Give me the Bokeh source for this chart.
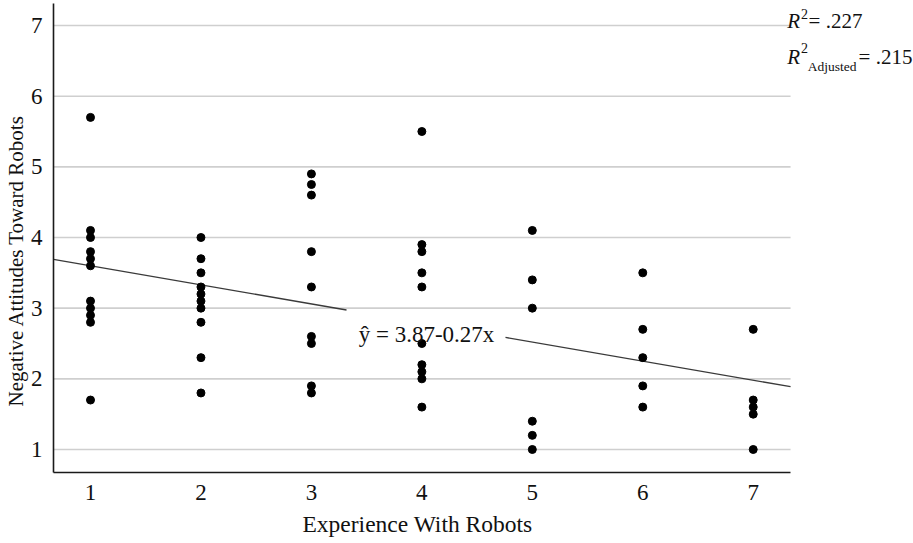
from bokeh.plotting import figure
from bokeh.models import Range1d, Label, FixedTicker, Title
from bokeh.embed import file_html
from bokeh.resources import INLINE

# ---------------- data ----------------
x_ticks = [1, 2, 3, 4, 5, 6, 7]
y_ticks = [1, 2, 3, 4, 5, 6, 7]

level_1 = [5.7, 4.1, 4.0, 3.8, 3.7, 3.6, 3.1, 3.0, 2.9, 2.8, 1.7]
level_2 = [4.0, 3.7, 3.5, 3.3, 3.2, 3.1, 3.0, 2.8, 2.3, 1.8]
level_3 = [4.9, 4.75, 4.6, 3.8, 3.3, 2.6, 2.5, 1.9, 1.8]
level_4 = [5.5, 3.9, 3.8, 3.5, 3.3, 2.5, 2.2, 2.1, 2.0, 1.6]
level_5 = [4.1, 3.4, 3.0, 1.4, 1.2, 1.0]
level_6 = [3.5, 2.7, 2.3, 1.9, 1.6]
level_7 = [2.7, 1.7, 1.6, 1.5, 1.0]
levels = [level_1, level_2, level_3, level_4, level_5, level_6, level_7]

intercept = 3.87
slope = -0.27
r2_value = ".227"
r2_adj_value = ".215"
equation_text = "ŷ = 3.87-0.27x"
x_title = "Experience With Robots"
y_title = "Negative Attitudes Toward Robots"

xs, ys = [], []
for lvl, vals in zip(x_ticks, levels):
    xs += [lvl] * len(vals)
    ys += vals

# ---------------- figure ----------------
X0, X_AXIS_END, X1 = 0.665, 7.338, 8.451
Y0, Y_AXIS_END, Y1 = 0.6745, 7.311, 7.354
FONT = "Liberation Serif"
INK = "#111111"

p = figure(width=913, height=543, output_backend="svg", toolbar_location=None,
           x_range=Range1d(X0, X1), y_range=Range1d(Y0, Y1),
           min_border_left=53, min_border_right=0, min_border_top=0,
           min_border_bottom=71)
p.outline_line_color = None
p.background_fill_color = "white"
p.border_fill_color = "white"

# axes
for ax in (p.xaxis[0], p.yaxis[0]):
    ax.major_tick_line_color = None
    ax.minor_tick_line_color = None
    ax.axis_line_color = "#1a1a1a"
    ax.axis_line_width = 1.6
    ax.major_label_text_font = FONT
    ax.major_label_text_font_size = "23px"
    ax.major_label_text_color = INK

p.xaxis.ticker = FixedTicker(ticks=x_ticks)
p.yaxis.ticker = FixedTicker(ticks=y_ticks)
p.xaxis.bounds = (X0, X_AXIS_END)
p.yaxis.bounds = (Y0, Y_AXIS_END)
p.xaxis.major_label_standoff = 6
p.yaxis.major_label_standoff = 5

# axis titles as side titles, positioned like the reference
p.add_layout(Title(text=x_title, align="left", offset=249, standoff=12,
                   text_font=FONT, text_font_size="23.5px",
                   text_font_style="normal", text_color=INK), "below")
p.add_layout(Title(text=y_title, align="left", offset=66, standoff=0,
                   text_font=FONT, text_font_size="21px",
                   text_font_style="normal", text_color=INK), "left")

# horizontal grid lines, limited to the plotting area
p.xgrid.visible = False
p.ygrid.visible = False
p.segment(x0=[X0] * len(y_ticks), y0=y_ticks, x1=[X_AXIS_END] * len(y_ticks), y1=y_ticks,
          line_color="#cfcfcf", line_width=1.6)

# regression line (interrupted around its equation label)
gap_start, gap_end = 3.318, 4.757
for a, b in ((X0, gap_start), (gap_end, X_AXIS_END)):
    p.line([a, b], [intercept + slope * a, intercept + slope * b],
           line_color="#3a3a3a", line_width=1.3)

# points
p.scatter(xs, ys, size=8, color="black")


# helpers converting reference pixel positions into data coordinates
def dx(px):
    return 1 + (px - 90) / 110.45


def dy(py):
    return 1 + (449 - py) / 70.67


def lab(text, px, py, size, style="normal", align="left", baseline="alphabetic"):
    p.add_layout(Label(x=dx(px), y=dy(py), text=text, text_font=FONT,
                       text_font_size=size, text_font_style=style,
                       text_align=align, text_baseline=baseline,
                       text_color=INK))


# equation
lab(equation_text, 426, 334, "23px", align="center")

# R^2 annotations
lab("R", 786.7, 20, "21px", style="italic")
lab("2", 800.5, 13, "14px")
lab("= " + r2_value, 808, 20, "21px")

lab("R", 786.7, 56.7, "21px", style="italic")
lab("2", 800.5, 47, "14px")
lab("Adjusted", 807.3, 66, "13.5px")
lab("= " + r2_adj_value, 858, 56.7, "21px")

open("out.html", "w").write(file_html(p, INLINE))
